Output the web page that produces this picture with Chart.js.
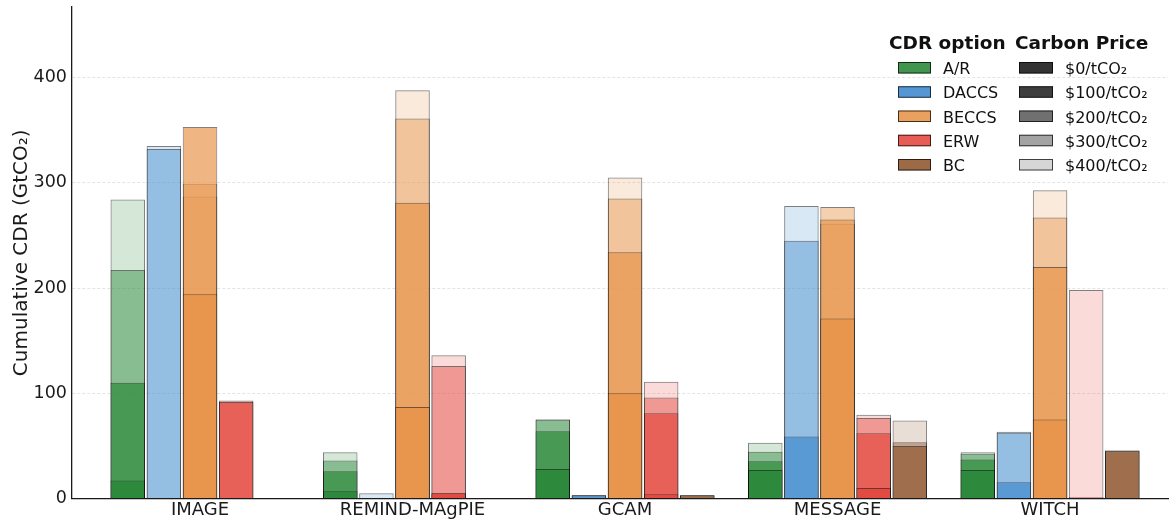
<!DOCTYPE html>
<html>
<head>
<meta charset="utf-8">
<script src="https://cdn.jsdelivr.net/npm/chart.js@4.4.1/dist/chart.umd.min.js"></script>
<style>
  html, body { margin: 0; padding: 0; background: #ffffff; }
  #wrap { width: 1170px; height: 524px; position: relative; }
</style>
</head>
<body>
<div id="wrap"><canvas id="cdrChart" width="1170" height="524"></canvas></div>
<script>
// Integrated assessment models on the x axis
const models = ['IMAGE', 'REMIND-MAgPIE', 'GCAM', 'MESSAGE', 'WITCH'];
// CDR options, one bar slot each per model
const cdrOptions = ['A/R', 'DACCS', 'BECCS', 'ERW', 'BC'];
// Carbon price scenarios, drawn as overlapping translucent layers
const carbonPrices = ['$0/tCO₂', '$100/tCO₂', '$200/tCO₂', '$300/tCO₂', '$400/tCO₂'];
const yTicks = [0, 100, 200, 300, 400];

// Cumulative CDR (GtCO2); rows follow `models`, columns follow `carbonPrices`
const arValues = [
  [0, 17, 110, 217, 284],
  [0, 7, 26, 36, 44],
  [0, 28, 64, 75, 75],
  [0, 27, 35.5, 44.5, 53],
  [0, 27, 37, 42.5, 44]
];
const daccsValues = [
  [0, 0, 0, 332, 335],
  [0, 0, 0, 0, 5],
  [0, 0, 3, 3, 3],
  [0, 0, 59, 245, 278],
  [0, 0, 15.5, 62.5, 63.5]
];
const beccsValues = [
  [0, 194, 353, 299, 287],
  [0, 87, 281, 361, 388],
  [0, 100, 234, 285, 305],
  [0, 171, 265, 277, 261],
  [0, 75, 220, 267, 293]
];
const erwValues = [
  [0, 0, 92, 92, 93],
  [0, 5, 5, 126, 136],
  [0, 4, 81, 96, 111],
  [0, 10, 62, 76.5, 79.5],
  [0, 1, 1, 1, 198]
];
const bcValues = [
  [0, 0, 0, 0, 0],
  [0, 0, 0, 0, 0],
  [0, 0, 3, 3, 3],
  [0, 0, 50, 53.5, 74],
  [0, 0, 45, 45.5, 45.5]
];

const optionValues = [arValues, daccsValues, beccsValues, erwValues, bcValues];
const optionRGB = ['44,138,60', '66,140,207', '232,150,77', '228,74,65', '146,90,51'];
const priceAlpha = [1.0, 0.95, 0.7, 0.45, 0.2];
const FONT = '"DejaVu Sans", "Liberation Sans", sans-serif';

// One dataset per (option, price); bars of the same option share a slot and overlap
const datasets = [];
cdrOptions.forEach((opt, o) => {
  carbonPrices.forEach((price, k) => {
    datasets.push({
      label: opt + ' ' + price,
      stack: opt,
      data: models.map((m, i) => ({ x: i, y: optionValues[o][i][k] })),
      backgroundColor: 'rgba(' + optionRGB[o] + ',' + priceAlpha[k] + ')',
      borderColor: 'rgba(0,0,0,0.5)',
      borderWidth: 1,
      borderSkipped: 'start',
      categoryPercentage: 0.85,
      barPercentage: 0.956
    });
  });
});

// Two-column legend: CDR option colours and carbon price shading
const cdrLegend = {
  id: 'cdrLegend',
  afterDraw(chart) {
    const ctx = chart.ctx;
    ctx.save();
    ctx.fillStyle = '#111111';
    ctx.textBaseline = 'alphabetic';
    ctx.textAlign = 'left';
    ctx.font = 'bold 18.5px ' + FONT;
    ctx.fillText('CDR option', 889, 48.5);
    ctx.fillText('Carbon Price', 1015, 48.5);
    ctx.font = '16px ' + FONT;
    for (let i = 0; i < 5; i++) {
      const base = 74 + i * 24.25;
      const top = base - 12;
      ctx.fillStyle = 'rgba(' + optionRGB[i] + ',0.9)';
      ctx.fillRect(898, top, 33, 11.5);
      ctx.strokeStyle = 'rgba(0,0,0,0.7)';
      ctx.lineWidth = 1;
      ctx.strokeRect(898.5, top + 0.5, 32, 10.5);
      ctx.fillStyle = 'rgba(51,51,51,' + priceAlpha[i] + ')';
      ctx.fillRect(1019, top, 34, 11.5);
      ctx.strokeRect(1019.5, top + 0.5, 33, 10.5);
      ctx.fillStyle = '#111111';
      ctx.fillText(cdrOptions[i], 943, base);
      ctx.fillText(carbonPrices[i], 1065, base);
    }
    ctx.restore();
  }
};

new Chart(document.getElementById('cdrChart'), {
  type: 'bar',
  data: { datasets },
  plugins: [cdrLegend],
  options: {
    responsive: false,
    animation: false,
    devicePixelRatio: 1,
    layout: { padding: { top: 7, right: 2, left: 0, bottom: 0 } },
    plugins: { legend: { display: false }, tooltip: { enabled: false } },
    scales: {
      x: {
        type: 'linear',
        min: -0.6024,
        max: 4.555,
        offset: false,
        grid: { display: false, drawTicks: false, offset: false },
        border: { display: true, color: '#1a1a1a', width: 1.3 },
        ticks: {
          font: { family: FONT, size: 18 },
          color: '#1a1a1a',
          padding: 1,
          autoSkip: false,
          maxRotation: 0,
          callback: (v) => models[v] !== undefined ? models[v] : ''
        },
        afterBuildTicks: (s) => { s.ticks = models.map((m, i) => ({ value: i })); },
        afterFit: (s) => { s.height = 25.5; s.paddingLeft = 0; s.paddingRight = 0; }
      },
      y: {
        stacked: false,
        min: 0,
        max: 467,
        grid: {
          drawTicks: false,
          lineWidth: 0.8,
          color: (c) => (c.tick && c.tick.value === 0) ? 'rgba(0,0,0,0)' : 'rgba(0,0,0,0.14)'
        },
        border: { display: true, color: '#1a1a1a', width: 1.3, dash: [3, 2] },
        ticks: {
          font: { family: FONT, size: 17.5 },
          color: '#1a1a1a',
          padding: 5
        },
        afterBuildTicks: (s) => { s.ticks = yTicks.map((v) => ({ value: v })); },
        afterFit: (s) => { s.width = 72; s.paddingTop = 0; s.paddingBottom = 0; },
        title: {
          display: true,
          text: 'Cumulative CDR (GtCO₂)',
          font: { family: FONT, size: 20 },
          color: '#1a1a1a',
          padding: { top: 10, bottom: 0 }
        }
      }
    }
  }
});
</script>
</body>
</html>
